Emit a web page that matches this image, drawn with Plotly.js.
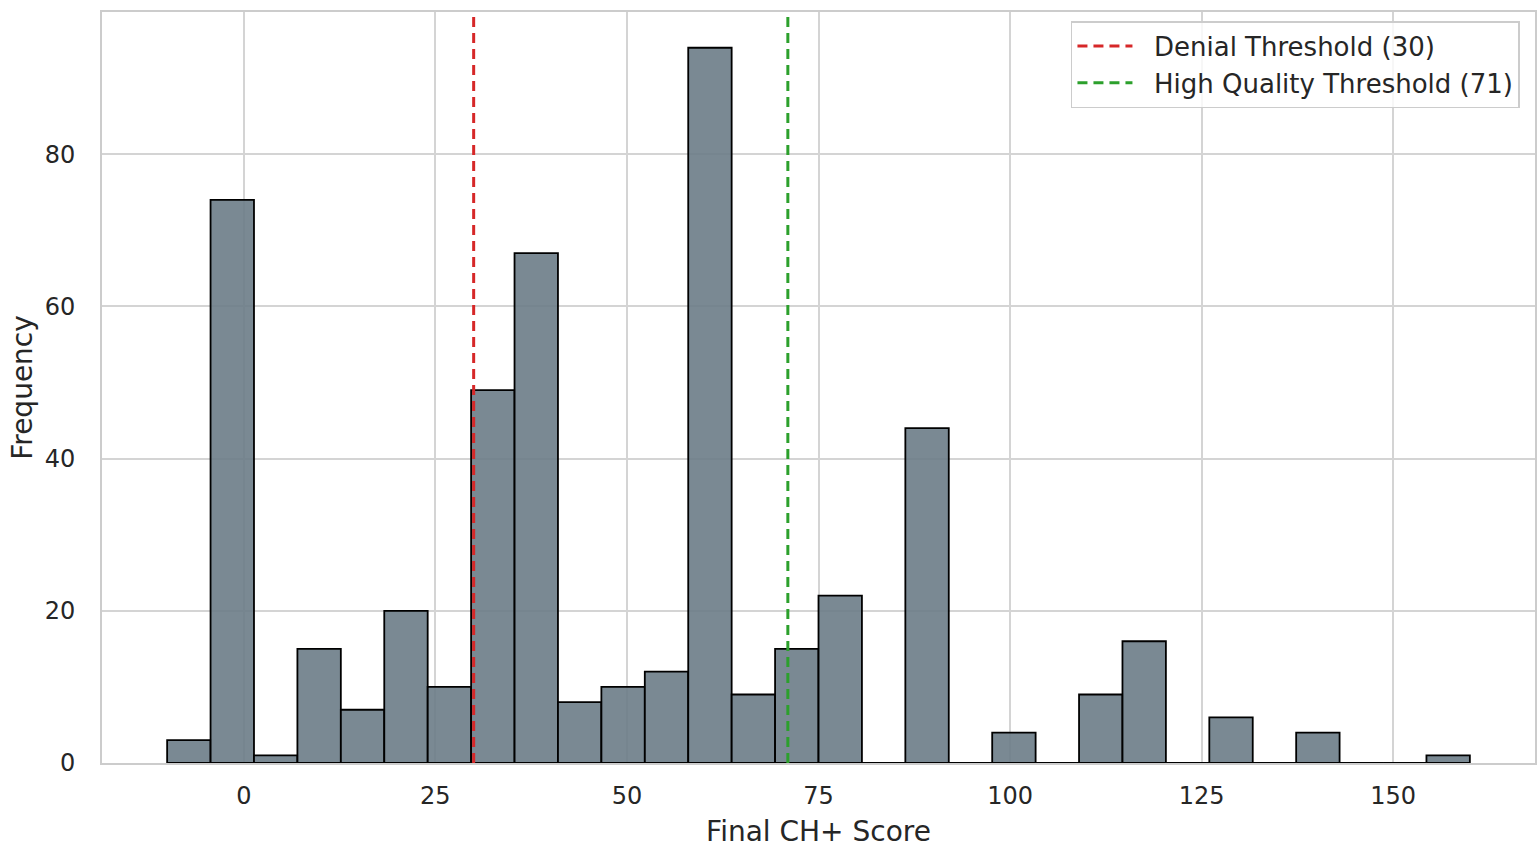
<!DOCTYPE html>
<html>
<head>
<meta charset="utf-8">
<script src="https://cdn.plot.ly/plotly-3.0.1.min.js"></script>
<style>html,body{margin:0;padding:0;background:#fff;}#chart{width:1537px;height:851px;}</style>
</head>
<body>
<div id="chart"></div>
<script>
// Histogram definition (30 bins from -10 to 160)
const binStart = -10;
const binEnd = 160;
const binCount = 30;
const counts = [3, 74, 1, 15, 7, 20, 10, 49, 67, 8, 10, 12, 94, 9, 15, 22, 0, 44, 0, 4, 0, 9, 16, 0, 6, 0, 4, 0, 0, 1];
const thresholdNames = ["Denial Threshold (30)", "High Quality Threshold (71)"];
const thresholdValues = [30, 71];
const thresholdColors = ["#d62728", "#2ca02c"];
const xTicks = [0, 25, 50, 75, 100, 125, 150];
const yTicks = [0, 20, 40, 60, 80];

const binWidth = (binEnd - binStart) / binCount;
const centers = counts.map((_, i) => binStart + binWidth * (i + 0.5));
const widths = counts.map(() => binWidth);

const font = "DejaVu Sans, sans-serif";
const textColor = "#262626";

const traces = [{
  type: "bar",
  x: centers,
  y: counts,
  width: widths,
  marker: {color: "rgba(108,124,135,0.9)", line: {color: "#000000", width: 1.8}},
  showlegend: false,
  hoverinfo: "x+y"
}];
thresholdValues.forEach((v, i) => {
  traces.push({
    type: "scatter",
    mode: "lines",
    x: [v, v],
    y: [0, 1],
    yaxis: "y2",
    name: "\u00a0\u00a0" + thresholdNames[i],
    line: {color: thresholdColors[i], width: 3, dash: "10px,6px"}
  });
});

const xPad = (binEnd - binStart) * 0.05;
const yMax = Math.max(...counts) * 1.05;

const layout = {
  width: 1537,
  height: 851,
  margin: {l: 102, r: 2, t: 12, b: 88},
  paper_bgcolor: "#ffffff",
  plot_bgcolor: "#ffffff",
  font: {family: font, color: textColor, size: 24},
  bargap: 0,
  xaxis: {
    range: [binStart - xPad, binEnd + xPad],
    tickvals: xTicks,
    ticktext: xTicks.map(String),
    showgrid: true,
    gridcolor: "#d4d4d4",
    gridwidth: 2,
    zeroline: false,
    showline: true,
    linecolor: "#cccccc",
    linewidth: 2,
    mirror: true,
    ticks: "outside",
    ticklen: 10,
    tickcolor: "rgba(0,0,0,0)",
    tickfont: {size: 24, color: textColor, family: font},
    title: {text: "Final CH+ Score", font: {size: 28, color: textColor, family: font}, standoff: 13},
    automargin: false
  },
  yaxis: {
    range: [0, yMax],
    tickvals: yTicks,
    ticktext: yTicks.map(String),
    showgrid: true,
    gridcolor: "#d4d4d4",
    gridwidth: 2,
    zeroline: false,
    showline: true,
    linecolor: "#cccccc",
    linewidth: 2,
    mirror: true,
    ticks: "outside",
    ticklen: 20,
    tickcolor: "rgba(0,0,0,0)",
    tickfont: {size: 24, color: textColor, family: font},
    title: {text: "Frequency", font: {size: 28, color: textColor, family: font}, standoff: 4},
    automargin: false
  },
  yaxis2: {
    overlaying: "y",
    range: [0, 1],
    visible: false,
    fixedrange: true
  },
  legend: {
    x: 0.9895,
    y: 0.988,
    xanchor: "right",
    yanchor: "top",
    bgcolor: "rgba(255,255,255,0.8)",
    bordercolor: "#cccccc",
    borderwidth: 1.5,
    font: {size: 26, color: textColor, family: font},
    itemwidth: 55,
    traceorder: "normal"
  },
  showlegend: true
};

Plotly.newPlot("chart", traces, layout, {displayModeBar: false, staticPlot: true});
</script>
</body>
</html>
